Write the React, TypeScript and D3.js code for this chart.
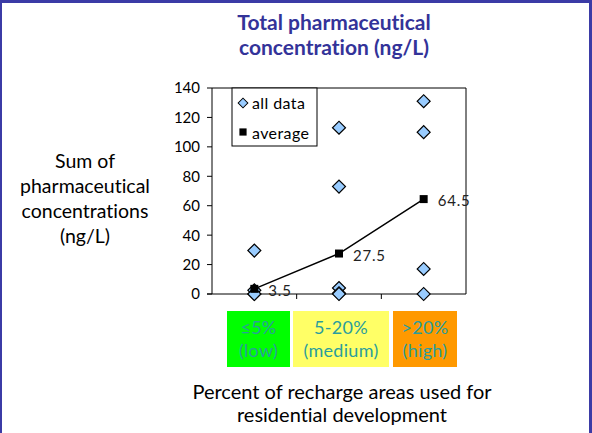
import React from "react";
import * as d3 from "d3";

const categories = ["low", "medium", "high"];
const categoryLabels = [
  ["≤5%", "(low)"],
  ["5-20%", "(medium)"],
  ["\u003E20%", "(high)"],
];
const categoryColors = ["#00ff00", "#ffff66", "#ff9900"];
const allData: [string, number][] = [
  ["low", 29.5], ["low", 2.5], ["low", 0], ["low", 0],
  ["medium", 113], ["medium", 73], ["medium", 4], ["medium", 0.5], ["medium", 0],
  ["high", 131], ["high", 110], ["high", 17], ["high", 0],
];
const averages = [3.5, 27.5, 64.5];
const yTicks = [0, 20, 40, 60, 80, 100, 120, 140];
const titleLines = ["Total pharmaceutical", "concentration (ng/L)"];
const yTitleLines = ["Sum of", "pharmaceutical", "concentrations", "(ng/L)"];
const xTitleLines = ["Percent of recharge areas used for", "residential development"];

const W = 592, H = 433;
const FONT = "Lato, 'Open Sans', sans-serif";
const BORDER = "#3b3ba6";

export default function App() {
  const x = d3.scaleBand().domain(categories).range([212, 466]);
  const y = d3.scaleLinear().domain([0, 140]).range([294, 88]);
  const cx = (c: string) => (x(c) as number) + x.bandwidth() / 2;
  const diamond = d3.symbol().type(d3.symbolSquare).size(84)();
  const square = d3.symbol().type(d3.symbolSquare).size(64)();
  const line = d3
    .line<number>()
    .x((_, i) => cx(categories[i]))
    .y((d) => y(d));
  const [x0, x1] = x.range();
  return (
    <svg
      width={W}
      height={H}
      style={{ position: "fixed", top: 0, left: 0, background: "#fff", fontVariantLigatures: "none" }}
      fontFamily={FONT}
    >
      <rect x={0} y={0} width={W} height={H} fill="#fff" />
      {/* frame */}
      <line x1={0} y1={1.5} x2={W} y2={1.5} stroke={BORDER} strokeWidth={3} />
      <line x1={1} y1={0} x2={1} y2={H} stroke={BORDER} strokeWidth={2} />
      <line x1={590.5} y1={0} x2={590.5} y2={H} stroke={BORDER} strokeWidth={3} />

      {/* title */}
      {titleLines.map((t, i) => (
        <text key={t} x={334} y={30 + i * 25} textAnchor="middle" fontSize={21} fontWeight="bold" fill="#333399">
          {t}
        </text>
      ))}

      {/* y axis title */}
      {yTitleLines.map((t, i) => (
        <text key={t} x={85} y={168 + i * 25} textAnchor="middle" fontSize={19.5} fill="#000">
          {t}
        </text>
      ))}

      {/* plot frame */}
      <line x1={x1} y1={y(140)} x2={x1} y2={y(0)} stroke="#000" strokeWidth={1} />
      <line x1={x0} y1={y(140)} x2={x1} y2={y(140)} stroke="#000" strokeWidth={1} />
      <line x1={x0} y1={y(140)} x2={x0} y2={y(0)} stroke="#000" strokeWidth={1} />
      <line x1={x0 - 5} y1={y(0)} x2={x1} y2={y(0)} stroke="#000" strokeWidth={1} />
      {yTicks.map((t) => (
        <g key={t}>
          <line x1={x0 - 5} x2={x0} y1={y(t)} y2={y(t)} stroke="#000" />
          <text x={x0 - 12} y={y(t)} dy="0.36em" textAnchor="end" fontSize={15} fill="#000">
            {t}
          </text>
        </g>
      ))}
      {categories.slice(1).map((c) => (
        <line key={c} x1={x(c)} x2={x(c)} y1={y(0)} y2={y(0) + 5} stroke="#000" />
      ))}

      {/* average line */}
      <path d={line(averages) || ""} fill="none" stroke="#000" strokeWidth={1.5} />

      {/* all data diamonds */}
      {allData.map(([c, v], i) => (
        <path
          key={i}
          d={diamond || ""}
          transform={`translate(${cx(c)},${y(v)}) rotate(45)`}
          fill="#99ccff"
          stroke="#000"
          strokeWidth={1.2}
        />
      ))}

      {/* averages */}
      {averages.map((v, i) => (
        <g key={i}>
          <path d={square || ""} transform={`translate(${cx(categories[i])},${y(v)})`} fill="#000" />
          <text x={cx(categories[i]) + 14} y={y(v) + 2} dy="0.36em" fontSize={15} letterSpacing={0.8} fill="#222">
            {v}
          </text>
        </g>
      ))}

      {/* legend */}
      <rect x={232} y={88} width={85} height={58} fill="#fff" stroke="#000" strokeWidth={1} />
      <path d={diamond || ""} transform="translate(243,103) rotate(45) scale(0.75)" fill="#99ccff" stroke="#000" strokeWidth={1.3} />
      <text x={252} y={103} dy="0.36em" fontSize={16} letterSpacing={0.4} fill="#000">all data</text>
      <path d={square || ""} transform="translate(243,132) scale(0.9)" fill="#000" />
      <text x={252} y={133} dy="0.36em" fontSize={16} letterSpacing={0.4} fill="#000">average</text>

      {/* category boxes */}
      {categories.map((c, i) => {
        const bx = [227, 293, 393][i];
        const bw = [63, 96, 64][i];
        return (
          <g key={c}>
            <rect x={bx} y={311} width={bw} height={56} fill={categoryColors[i]} />
            {categoryLabels[i].map((t, j) => (
              <text key={t} x={bx + bw / 2} y={334 + j * 23} textAnchor="middle" fontSize={18} letterSpacing={0.3} fill="#2a9d9d">
                {t}
              </text>
            ))}
          </g>
        );
      })}

      {/* x title */}
      {xTitleLines.map((t, i) => (
        <text key={t} x={342} y={399 + i * 23} textAnchor="middle" fontSize={20} fill="#000">
          {t}
        </text>
      ))}
    </svg>
  );
}
